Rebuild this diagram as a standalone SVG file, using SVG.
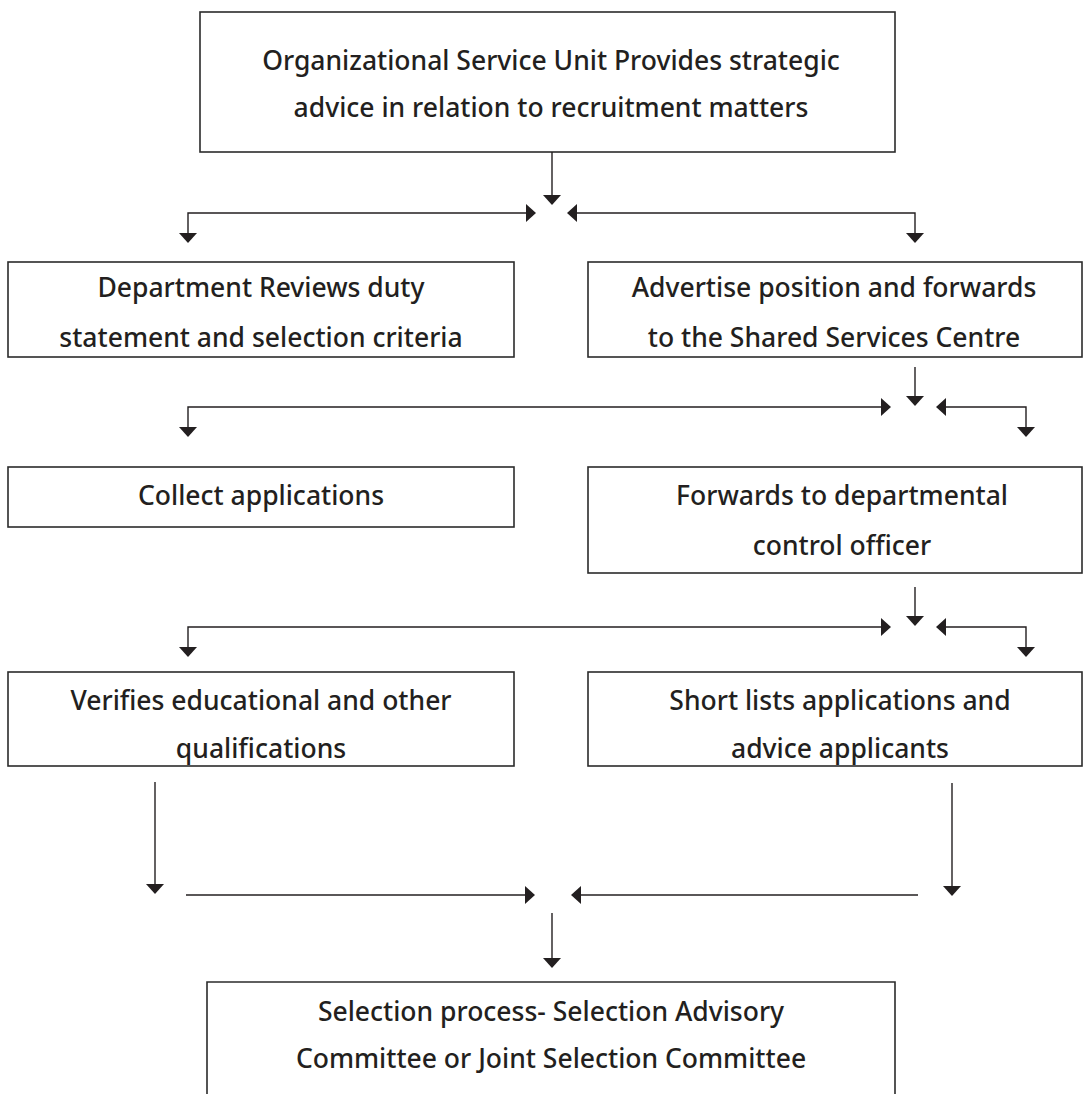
<svg xmlns="http://www.w3.org/2000/svg" width="1091" height="1094" viewBox="0 0 1091 1094">
<style>
.box{fill:#fff;stroke:#2b2b2b;stroke-width:1.6}
.t{font-family:"Noto Sans","Open Sans",sans-serif;font-size:26.5px;font-weight:500;fill:#231f20;text-anchor:middle}
.ln{fill:none;stroke:#231f20;stroke-width:1.4}
.ah{fill:#231f20}
</style>
<defs>
<path id="ad" d="M-9,-10 L9,-10 L0,0 Z"/>
<path id="ar" d="M-10,-9 L-10,9 L0,0 Z"/>
<path id="al" d="M10,-9 L10,9 L0,0 Z"/>
</defs>
<rect width="1091" height="1094" fill="#fff"/>

<g id="n1">
<rect class="box" x="200" y="12" width="695" height="140"/>
<text class="t" x="551" y="70">Organizational Service Unit Provides strategic</text>
<text class="t" x="551" y="117">advice in relation to recruitment matters</text>
</g>
<g id="n2">
<rect class="box" x="8" y="262" width="506" height="95"/>
<text class="t" x="261" y="297">Department Reviews duty</text>
<text class="t" x="261" y="347">statement and selection criteria</text>
</g>
<g id="n3">
<rect class="box" x="588" y="262" width="494" height="95"/>
<text class="t" x="834" y="297">Advertise position and forwards</text>
<text class="t" x="834" y="347">to the Shared Services Centre</text>
</g>
<g id="n4">
<rect class="box" x="8" y="467" width="506" height="60"/>
<text class="t" x="261" y="505">Collect applications</text>
</g>
<g id="n5">
<rect class="box" x="588" y="467" width="494" height="106"/>
<text class="t" x="842" y="505">Forwards to departmental</text>
<text class="t" x="842" y="555">control officer</text>
</g>
<g id="n6">
<rect class="box" x="8" y="672" width="506" height="94"/>
<text class="t" x="261" y="710">Verifies educational and other</text>
<text class="t" x="261" y="758">qualifications</text>
</g>
<g id="n7">
<rect class="box" x="588" y="672" width="494" height="94"/>
<text class="t" x="840" y="710">Short lists applications and</text>
<text class="t" x="840" y="758">advice applicants</text>
</g>
<g id="n8">
<path class="box" d="M207,1095 V982 H895 V1095"/>
<text class="t" x="551" y="1021">Selection process- Selection Advisory</text>
<text class="t" x="551" y="1068">Committee or Joint Selection Committee</text>
</g>

<g id="connectors">
<path class="ln" d="M552,152 V196"/>
<use href="#ad" class="ah" x="552" y="205"/>
<path class="ln" d="M526,213 H188 V234"/>
<use href="#ar" class="ah" x="536" y="213"/>
<use href="#ad" class="ah" x="188" y="243"/>
<path class="ln" d="M577,213 H915 V234"/>
<use href="#al" class="ah" x="567" y="213"/>
<use href="#ad" class="ah" x="915" y="243"/>

<path class="ln" d="M915,367 V397"/>
<use href="#ad" class="ah" x="915" y="406"/>
<path class="ln" d="M881,407 H188 V428"/>
<use href="#ar" class="ah" x="891" y="407"/>
<use href="#ad" class="ah" x="188" y="437"/>
<path class="ln" d="M946,407 H1026 V428"/>
<use href="#al" class="ah" x="936" y="407"/>
<use href="#ad" class="ah" x="1026" y="437"/>

<path class="ln" d="M915,587 V617"/>
<use href="#ad" class="ah" x="915" y="626"/>
<path class="ln" d="M881,627 H188 V648"/>
<use href="#ar" class="ah" x="891" y="627"/>
<use href="#ad" class="ah" x="188" y="657"/>
<path class="ln" d="M946,627 H1026 V648"/>
<use href="#al" class="ah" x="936" y="627"/>
<use href="#ad" class="ah" x="1026" y="657"/>

<path class="ln" d="M155,782 V885"/>
<use href="#ad" class="ah" x="155" y="894"/>
<path class="ln" d="M186,895 H525"/>
<use href="#ar" class="ah" x="535" y="895"/>
<path class="ln" d="M581,895 H918"/>
<use href="#al" class="ah" x="571" y="895"/>
<path class="ln" d="M952,783 V887"/>
<use href="#ad" class="ah" x="952" y="896"/>
<path class="ln" d="M552,913 V959"/>
<use href="#ad" class="ah" x="552" y="968"/>
</g>
</svg>
